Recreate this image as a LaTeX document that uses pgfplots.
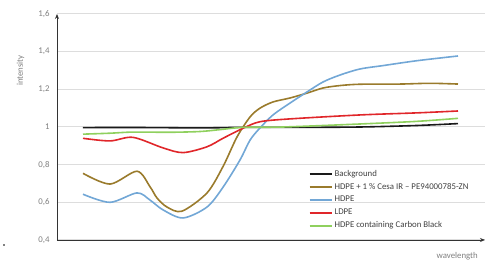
\documentclass[border=0pt]{standalone}
\usepackage{pgfplots}
\pgfplotsset{compat=1.18}
\usepackage{fontspec}
\setmainfont{Carlito}
\usetikzlibrary{arrows.meta}
\definecolor{lineblack}{HTML}{1A1A1A}
\definecolor{linebrown}{HTML}{9A7B2C}
\definecolor{lineblue}{HTML}{72A7D6}
\definecolor{linered}{HTML}{E0262A}
\definecolor{linegreen}{HTML}{8FD05E}
\definecolor{tgray}{HTML}{7F7F7F}
\definecolor{ggray}{HTML}{DDDDDD}
\begin{document}
\begin{tikzpicture}
\begin{axis}[
  scale only axis, width=428pt, height=226pt,
  xmin=57, xmax=485, ymin=0.4, ymax=1.6,
  axis lines=left,
  axis line style={draw=black!80, line width=0.9pt, -{Stealth[length=5pt,width=4pt]}},
  xtick=\empty,
  ytick={0.4,0.6,0.8,1,1.2,1.4,1.6},
  yticklabels={{0,4},{0,6},{0,8},{1},{1,2},{1,4},{1,6}},
  major tick length=0pt,
  ymajorgrids, grid style={ggray, line width=1pt},
  yticklabel style={font=\fontsize{8.8}{10}\selectfont, text=tgray, xshift=-4pt},
  /pgf/number format/assume math mode=true,
  ylabel={intensity},
  ylabel style={font=\fontsize{8.8}{10}\selectfont, text=tgray, at={(axis description cs:-0.068,0.75)}, anchor=south},
  xlabel={wavelength},
  xlabel style={font=\fontsize{8.8}{10}\selectfont, text=tgray, at={(axis description cs:0.935,0)}, anchor=north, yshift=-9pt},
  legend style={draw=none, fill=none, at={(axis description cs:0.585,0.324)}, anchor=north west,
    font=\fontsize{8.8}{9}\selectfont, text=black!75, row sep=1.6pt, inner sep=1pt},
  legend cell align=left,
  legend image code/.code={\draw[#1] (0pt,0pt) -- (22pt,0pt);},
  every axis plot/.append style={smooth, line width=1.6pt, mark=none},
  clip=false,
]
\addlegendimage{draw=lineblack, line width=2pt}
\addlegendentry{Background}
\addlegendimage{draw=linebrown, line width=2pt}
\addlegendentry{HDPE + 1 \% Cesa IR – PE94000785-ZN}
\addlegendimage{draw=lineblue, line width=2pt}
\addlegendentry{HDPE}
\addlegendimage{draw=linered, line width=2pt}
\addlegendentry{LDPE}
\addlegendimage{draw=linegreen, line width=2pt}
\addlegendentry{HDPE containing Carbon Black}
\addplot[color=lineblack, forget plot] coordinates {(83,0.997)(150,0.997)(200,0.995)(243,0.998)(300,0.998)(360,1.0)(417,1.008)(458,1.018)};
\addplot[color=linebrown, forget plot] coordinates {(83,0.754)(110,0.697)(137,0.765)(150,0.683)(157,0.623)(167,0.575)(182,0.553)(207,0.65)(223,0.79)(237,0.947)(250,1.053)(260,1.10)(273,1.133)(290,1.154)(307,1.18)(323,1.207)(340,1.22)(360,1.227)(400,1.228)(430,1.232)(458,1.228)};
\addplot[color=lineblue, forget plot] coordinates {(83,0.643)(110,0.6)(137,0.65)(150,0.612)(163,0.56)(183,0.517)(207,0.575)(223,0.68)(240,0.825)(250,0.93)(260,0.995)(273,1.064)(290,1.127)(307,1.186)(323,1.239)(340,1.276)(360,1.308)(383,1.326)(417,1.352)(458,1.377)};
\addplot[color=linered, forget plot] coordinates {(83,0.94)(110,0.926)(133,0.945)(163,0.889)(183,0.864)(207,0.895)(223,0.94)(243,0.993)(260,1.028)(290,1.043)(360,1.064)(417,1.075)(458,1.085)};
\addplot[color=linegreen, forget plot] coordinates {(83,0.962)(110,0.967)(133,0.973)(170,0.972)(200,0.976)(220,0.986)(243,0.998)(283,1.0)(360,1.016)(417,1.03)(458,1.046)};
\end{axis}
\fill[black] (-53pt,-5pt) circle (0.9pt);
\path[use as bounding box] (-57pt,-20pt) rectangle (441pt,240pt);
\end{tikzpicture}
\end{document}
